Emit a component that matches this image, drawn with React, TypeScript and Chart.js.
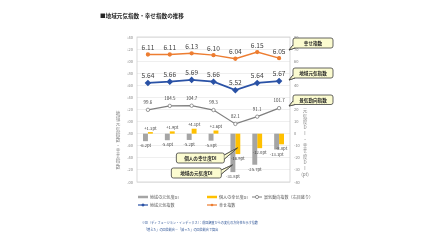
import React, { useEffect, useRef } from 'react';
import { Chart, registerables } from 'chart.js';
Chart.register(...registerables);

const years = ['2016', '2017', '2018', '2019', '2020', '2021', '2022'];
const happinessIndex = [6.11, 6.11, 6.13, 6.10, 6.04, 6.15, 6.05];
const regionalIndex = [5.64, 5.66, 5.69, 5.66, 5.52, 5.64, 5.67];
const businessIndex = [99.6, 104.5, 104.7, 99.3, 82.1, 91.1, 101.7];
const regionalDI = [-6.2, -5.4, -5.2, -5.8, -31.8, -25.7, -13.1];
const personalDI = [1.3, 1.9, 4.1, 2.6, -16.9, -12.0, -8.8];

const titleText = '■地域元気指数・幸せ指数の推移';
const leftTitle = ['地', '域', '元', '気', '指', '数', '・', '幸', 'せ', '指', '数'];
const rightTitle = ['元', '気', '度', 'D', 'I', '・', '幸', 'せ', '度', 'D', 'I', '(pt)'];
const noteLines = [
  '※DI（ディフュージョン・インデックス）：前回調査からの変化の方向性を示す指数',
  '「増えた」の回答割合－「減った」の回答割合で算出',
];

const FAM = '"Noto Sans CJK JP", "Noto Sans", sans-serif';
const f = (s: number, bold = false) => `${bold ? 'bold ' : ''}${s}px ${FAM}`;

const ORANGE = '#ED7D31';
const BLUE = '#2A52A6';
const GRAY_BAR = '#A5A5A5';
const YELLOW = '#FFC000';
const GRAY_LINE = '#7F7F7F';

function callout(ctx: CanvasRenderingContext2D, x: number, y: number, w: number, h: number, text: string, b1: [number, number], b2: [number, number], tip: [number, number]) {
  ctx.save();
  ctx.fillStyle = '#FBFBD0';
  ctx.strokeStyle = '#404040';
  ctx.lineWidth = 0.8;
  ctx.beginPath();
  ctx.moveTo(b1[0], b1[1]);
  ctx.lineTo(tip[0], tip[1]);
  ctx.lineTo(b2[0], b2[1]);
  ctx.closePath();
  ctx.fill();
  ctx.stroke();
  ctx.beginPath();
  (ctx as any).roundRect(x, y, w, h, 2);
  ctx.fill();
  ctx.stroke();
  ctx.beginPath();
  ctx.moveTo(b1[0], b1[1]);
  ctx.lineTo(tip[0], tip[1]);
  ctx.lineTo(b2[0], b2[1]);
  ctx.closePath();
  ctx.fill();
  ctx.beginPath();
  ctx.moveTo(b1[0], b1[1]);
  ctx.lineTo(tip[0], tip[1]);
  ctx.lineTo(b2[0], b2[1]);
  ctx.stroke();
  ctx.fillStyle = '#262626';
  ctx.font = f(4.6, true);
  ctx.textAlign = 'center';
  ctx.textBaseline = 'middle';
  ctx.fillText(text, x + w / 2, y + h / 2 + 0.3);
  ctx.restore();
}

const overlay = {
  id: 'overlay',
  beforeDatasetsDraw(chart: any) {
    const { ctx, chartArea } = chart;
    ctx.save();
    ctx.strokeStyle = '#D0D0D0';
    ctx.lineWidth = 0.8;
    ctx.strokeRect(chartArea.left, chartArea.top, chartArea.right - chartArea.left, chartArea.bottom - chartArea.top);
    ctx.restore();
  },
  afterDatasetsDraw(chart: any) {
    const { ctx, chartArea } = chart;
    const L = chartArea.left, R = chartArea.right, T = chartArea.top, B = chartArea.bottom;
    ctx.save();
    // title
    ctx.fillStyle = '#262626';
    ctx.font = f(5.6, true);
    ctx.textAlign = 'left';
    ctx.textBaseline = 'middle';
    ctx.fillText(titleText, L - 37, T - 21);

    // vertical titles
    ctx.fillStyle = '#7F7F7F';
    ctx.font = f(4.6);
    ctx.textAlign = 'center';
    leftTitle.forEach((c, i) => ctx.fillText(c, L - 19, T + 76 + i * 5.3));
    rightTitle.forEach((c, i) => ctx.fillText(c, R + 15, T + 73 + i * 5.8));

    // data labels
    chart.data.datasets.forEach((ds: any, i: number) => {
      const meta = chart.getDatasetMeta(i);
      meta.data.forEach((el: any, j: number) => {
        const v = ds.data[j];
        ctx.fillStyle = '#404040';
        if (ds.kind === 'bar') {
          ctx.font = f(4.2);
          const txt = (v > 0 ? '+' : '') + v.toFixed(1) + 'pt';
          ctx.fillText(txt, el.x + (ds.shift || 0), v >= 0 ? el.y - 4 : el.y + 4.5);
        } else if (ds.kind === 'big') {
          ctx.font = f(6.6);
          ctx.fillText(v.toFixed(2), el.x, el.y - ds.off);
        } else if (ds.kind === 'small') {
          ctx.font = f(4.5);
          ctx.fillText(v.toFixed(1), el.x, el.y - 7.5);
        }
      });
    });

    // legend
    const r1 = B + 15, r2 = B + 23;
    const items: any[] = [
      { x: L + 1, y: r1, color: GRAY_BAR, w: 2.5, text: '地域の元気度DI' },
      { x: L + 70, y: r1, color: YELLOW, w: 2.5, text: '個人の幸せ度DI' },
      { x: L + 115, y: r1, color: GRAY_LINE, w: 1, marker: 'circle', text: '景気動向指数（右目盛り）' },
      { x: L + 1, y: r2, color: BLUE, w: 1.2, marker: 'diamond', text: '地域元気指数' },
      { x: L + 70, y: r2, color: ORANGE, w: 1.2, marker: 'dot', text: '幸せ指数' },
    ];
    items.forEach((it) => {
      ctx.strokeStyle = it.color;
      ctx.lineWidth = it.w;
      ctx.beginPath();
      ctx.moveTo(it.x, it.y);
      ctx.lineTo(it.x + 10, it.y);
      ctx.stroke();
      const cx = it.x + 5;
      if (it.marker === 'circle') {
        ctx.fillStyle = '#fff';
        ctx.lineWidth = 0.8;
        ctx.beginPath();
        ctx.arc(cx, it.y, 1.6, 0, Math.PI * 2);
        ctx.fill();
        ctx.stroke();
      } else if (it.marker === 'diamond') {
        ctx.fillStyle = it.color;
        ctx.beginPath();
        ctx.moveTo(cx, it.y - 1.8);
        ctx.lineTo(cx + 1.8, it.y);
        ctx.lineTo(cx, it.y + 1.8);
        ctx.lineTo(cx - 1.8, it.y);
        ctx.closePath();
        ctx.fill();
      } else if (it.marker === 'dot') {
        ctx.fillStyle = it.color;
        ctx.beginPath();
        ctx.arc(cx, it.y, 1.3, 0, Math.PI * 2);
        ctx.fill();
      }
      ctx.fillStyle = '#595959';
      ctx.font = f(4.1);
      ctx.textAlign = 'left';
      ctx.fillText(it.text, it.x + 12, it.y + 0.3);
    });

    // notes
    ctx.fillStyle = '#2F5597';
    ctx.font = f(3.1);
    ctx.textAlign = 'left';
    ctx.fillText(noteLines[0], L + 5, B + 41);
    ctx.fillText(noteLines[1], L + 7, B + 48);

    // callouts
    const xs = chart.scales.x;
    const c2020 = xs.getPixelForValue(4);
    callout(ctx, R + 3, T + 1, 40, 10, '幸せ指数', [R + 3, T + 8], [R + 5, T + 11], [R - 1, T + 13]);
    callout(ctx, R + 3, T + 31, 40, 10, '地域元気指数', [R + 3, T + 38], [R + 5, T + 41], [R - 1, T + 43]);
    callout(ctx, R + 3, T + 58, 40, 9.5, '景気動向指数', [R + 3, T + 64], [R + 5, T + 67.5], [R - 1, T + 69]);
    callout(ctx, c2020 - 59, B - 29, 48, 10, '個人の幸せ度DI', [c2020 - 11, B - 27], [c2020 - 11, B - 23], [c2020 + 2, B - 34]);
    callout(ctx, c2020 - 64, B - 14, 50, 10, '地域の元気度DI', [c2020 - 14, B - 12], [c2020 - 14, B - 8], [c2020 - 3, B - 17]);
    ctx.restore();
  },
};

export default function App() {
  const ref = useRef<HTMLCanvasElement>(null);
  useEffect(() => {
    const tickFont = { size: 4, family: FAM };
    const chart = new Chart(ref.current as HTMLCanvasElement, {
      type: 'bar',
      data: {
        labels: years,
        datasets: [
          { type: 'line', label: '幸せ指数', data: happinessIndex, yAxisID: 'y', borderColor: ORANGE, backgroundColor: ORANGE, borderWidth: 1.5, pointRadius: 1.4, pointStyle: 'circle', order: 1, kind: 'big', off: 7 } as any,
          { type: 'line', label: '地域元気指数', data: regionalIndex, yAxisID: 'y', borderColor: BLUE, backgroundColor: BLUE, borderWidth: 1.8, pointRadius: 2, pointStyle: 'rectRot', order: 1, kind: 'big', off: 7.5 } as any,
          { type: 'line', label: '景気動向指数（右目盛り）', data: businessIndex, yAxisID: 'y3', borderColor: GRAY_LINE, backgroundColor: '#FFFFFF', borderWidth: 1.2, pointRadius: 1.7, pointBorderWidth: 0.8, pointStyle: 'circle', order: 1, kind: 'small' } as any,
          { type: 'bar', label: '地域の元気度DI', data: regionalDI, yAxisID: 'y2', backgroundColor: GRAY_BAR, categoryPercentage: 0.45, barPercentage: 1, order: 3, kind: 'bar' } as any,
          { type: 'bar', label: '個人の幸せ度DI', data: personalDI, yAxisID: 'y2', backgroundColor: YELLOW, categoryPercentage: 0.45, barPercentage: 1, order: 3, kind: 'bar' } as any,
        ],
      },
      options: {
        responsive: false,
        animation: false,
        devicePixelRatio: 1,
        layout: { padding: { left: 127, right: 130, top: 37, bottom: 54 } },
        plugins: { legend: { display: false }, tooltip: { enabled: false }, title: { display: false } },
        scales: {
          x: {
            grid: { display: false },
            border: { display: false },
            ticks: { font: tickFont, color: '#7F7F7F', padding: 4, maxRotation: 0 },
            afterFit: (s: any) => { s.height = 10; },
          },
          y: {
            position: 'left',
            min: 4.0,
            max: 6.4,
            grid: { color: '#E4E4E4', lineWidth: 0.6, drawTicks: false },
            border: { display: false },
            ticks: { stepSize: 0.2, autoSkip: false, font: tickFont, color: '#7F7F7F', padding: 4, callback: (v: any) => Number(v).toFixed(2) },
            afterFit: (s: any) => { s.width = 10; },
          },
          y2: {
            position: 'right',
            min: -40,
            max: 80,
            grid: { display: false, drawTicks: false },
            border: { display: false },
            ticks: { stepSize: 10, autoSkip: false, font: tickFont, color: '#7F7F7F', padding: 4 },
            afterFit: (s: any) => { s.width = 10; },
          },
          y3: { display: false, min: 10, max: 190 },
        },
      } as any,
      plugins: [overlay],
    });
    return () => chart.destroy();
  }, []);
  return (
    <div style={{ position: 'fixed', left: 0, top: 0, width: 430, height: 246, background: '#fff' }}>
      <canvas ref={ref} width={430} height={246} style={{ display: 'block', width: 430, height: 246 }} />
    </div>
  );
}
